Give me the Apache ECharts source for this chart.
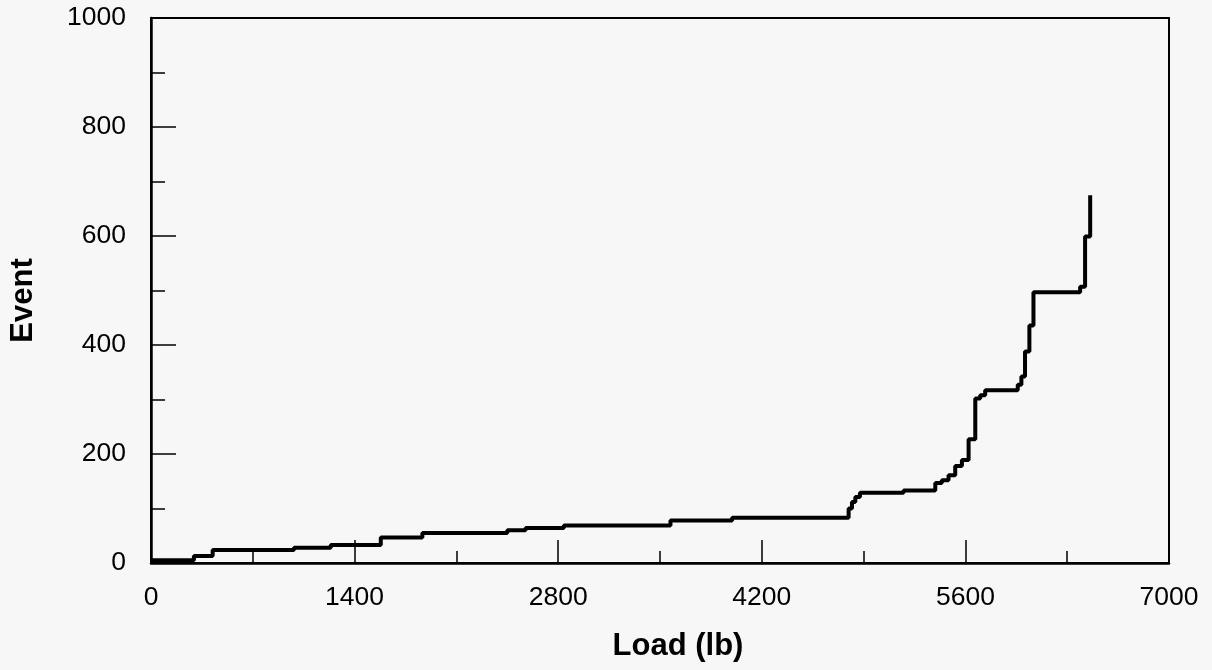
<!DOCTYPE html>
<html>
<head>
<meta charset="utf-8">
<script src="https://cdn.jsdelivr.net/npm/echarts@6/dist/echarts.min.js"></script>
<style>
html,body{margin:0;padding:0;background:#f7f7f7;}
#main{width:1212px;height:670px;}
</style>
</head>
<body>
<div id="main"></div>
<script>
// Load (lb) at which each new event level begins
var loads = [0, 295, 424, 983, 1236, 1580, 1866, 2450, 2576, 2839, 3572, 3996,
  4797, 4820, 4843, 4875, 5175, 5393, 5438, 5484, 5530, 5576, 5622, 5668,
  5702, 5736, 5960, 5985, 6010, 6040, 6068, 6389, 6423, 6458];
// Cumulative event count reached at that load
var events = [5, 13, 24, 28, 33, 47, 55, 60, 64, 69, 78, 83,
  100, 112, 121, 129, 133, 147, 152, 161, 178, 189, 227, 302,
  308, 317, 327, 342, 388, 436, 497, 507, 599, 675];
var xTicks = [0, 1400, 2800, 4200, 5600, 7000];
var yTicks = [0, 200, 400, 600, 800, 1000];

var data = loads.map(function (l, i) { return [l, events[i]]; });
var FONT = "'Liberation Sans', Arial, Helvetica, sans-serif";

var chart = echarts.init(document.getElementById('main'));
chart.setOption({
  backgroundColor: '#f7f7f7',
  animation: false,
  grid: {
    left: 150, right: 43, top: 18, bottom: 107,
    show: true, borderColor: '#000', borderWidth: 2, backgroundColor: 'transparent'
  },
  xAxis: {
    type: 'value',
    min: xTicks[0], max: xTicks[xTicks.length - 1], interval: 1400,
    name: 'Load (lb)', nameLocation: 'middle', nameGap: 68,
    nameTextStyle: { fontFamily: FONT, fontSize: 31, fontWeight: 'bold', color: '#000', padding: [0, 0, 0, 36] },
    axisLine: { show: true, lineStyle: { color: '#000', width: 2.5 } },
    axisTick: { show: true, inside: true, length: 23, lineStyle: { color: '#000', width: 1.5 } },
    minorTick: { show: true, splitNumber: 2, length: 12, lineStyle: { color: '#000', width: 1.5 } },
    splitLine: { show: false },
    axisLabel: { fontFamily: FONT, fontSize: 26.5, color: '#000', margin: 21, formatter: function (v) { return String(v); } }
  },
  yAxis: {
    type: 'value',
    min: yTicks[0], max: yTicks[yTicks.length - 1], interval: 200,
    name: 'Event', nameLocation: 'middle', nameGap: 112,
    nameTextStyle: { fontFamily: FONT, fontSize: 31, fontWeight: 'bold', color: '#000', padding: [0, 20, 0, 0] },
    axisLine: { show: true, lineStyle: { color: '#000', width: 2.5 } },
    axisTick: { show: true, inside: true, length: 25, lineStyle: { color: '#000', width: 1.5 } },
    minorTick: { show: true, splitNumber: 2, length: 14, lineStyle: { color: '#000', width: 1.5 } },
    splitLine: { show: false },
    axisLabel: { fontFamily: FONT, fontSize: 26.5, color: '#000', margin: 25, formatter: function (v) { return String(v); } }
  },
  series: [{
    type: 'line',
    step: 'end',
    data: data,
    showSymbol: false,
    symbol: 'none',
    lineStyle: { color: '#000', width: 4 }
  }]
});
</script>
</body>
</html>
